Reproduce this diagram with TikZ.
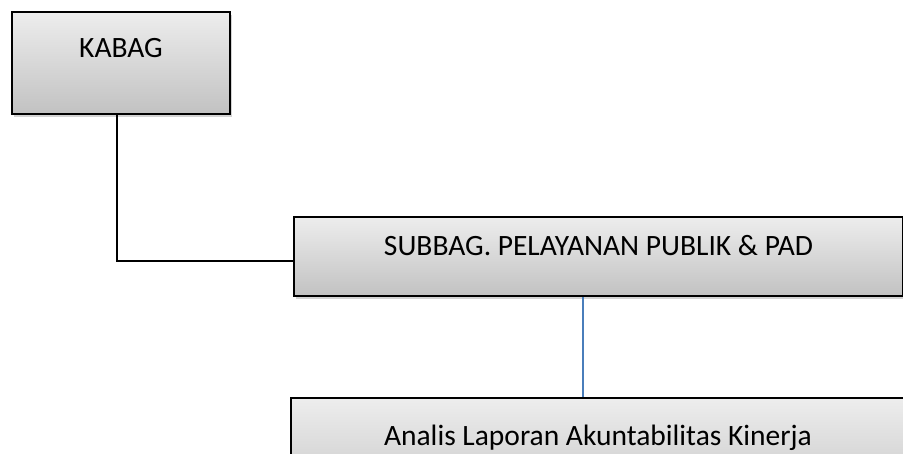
\documentclass[tikz,border=0pt]{standalone}
\usepackage{fontspec}
\setmainfont{Carlito}
\usetikzlibrary{shadows}
\definecolor{linkblue}{RGB}{74,126,187}
\tikzset{
        unitbox/.style={draw, line width=2pt, top color=black!7, bottom color=black!24,
                drop shadow={shadow xshift=2pt, shadow yshift=-3pt, opacity=0.35},
                inner xsep=0pt, inner ysep=0pt, anchor=north west,
                font=\fontsize{29.5}{34}\selectfont},
        link/.style={draw, line width=2pt},
        bluelink/.style={draw=linkblue, line width=1.3pt}
}
\begin{document}
\begin{tikzpicture}[x=1pt, y=-1pt]
        \useasboundingbox (0,0) rectangle (903,454);
        \clip (0,0) rectangle (903,454);

        \node[unitbox, minimum width=218pt, text height=45.5pt, text depth=56.5pt] (kabag) at (11,11) {KABAG};
        \node[unitbox, minimum width=609pt, text height=39pt, text depth=40pt] (subbag) at (293,216) {SUBBAG. PELAYANAN PUBLIK \& PAD};
        \node[unitbox, minimum width=614pt, text height=47pt, text depth=70pt] (analis) at (290,397.5) {Analis Laporan Akuntabilitas Kinerja};

        \coordinate (bend) at (117,261);
        \coordinate (tap) at (583,0);

        \path[link] (kabag.south -| bend) -- (bend) -- (bend -| subbag.west);
        \path[bluelink] (subbag.south -| tap) -- (analis.north -| tap);
\end{tikzpicture}
\end{document}
